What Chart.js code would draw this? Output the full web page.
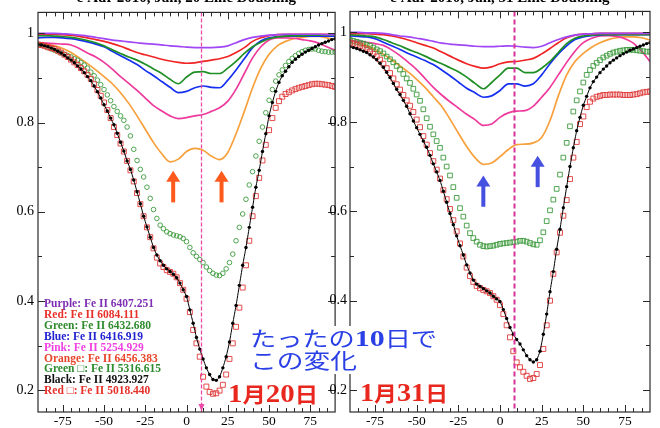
<!DOCTYPE html>
<html>
<head>
<meta charset="utf-8">
<script src="https://cdn.jsdelivr.net/npm/chart.js@4.4.1/dist/chart.umd.min.js"></script>
<style>
  html, body { margin: 0; padding: 0; background: #fff; }
  #wrap { position: relative; width: 660px; height: 428px; overflow: hidden; }
  #wrap canvas { position: absolute; top: 0; }
  #c20 { left: 0; }
  #c31 { left: 300px; }
  #notes { left: 0; }
</style>
</head>
<body>
<div id="wrap">
  <canvas id="c20" width="340" height="428"></canvas>
  <canvas id="c31" width="360" height="428"></canvas>
  <canvas id="notes" width="660" height="428"></canvas>
</div>
<script>
// velocity grids (km/s): lines sampled every 5, marker series every 2
const velLine = [-90,-85,-80,-75,-70,-65,-60,-55,-50,-45,-40,-35,-30,-25,-20,-15,-10,-5,
  0,5,10,15,20,25,30,35,40,45,50,55,60,65,70,75,80,85,90];
const velMark = [-90,-88,-86,-84,-82,-80,-78,-76,-74,-72,-70,-68,-66,-64,-62,-60,-58,-56,-54,-52,
  -50,-48,-46,-44,-42,-40,-38,-36,-34,-32,-30,-28,-26,-24,-22,-20,-18,-16,-14,-12,
  -10,-8,-6,-4,-2,0,2,4,6,8,10,12,14,16,18,20,22,24,26,28,
  30,32,34,36,38,40,42,44,46,48,50,52,54,56,58,60,62,64,66,68,
  70,72,74,76,78,80,82,84,86,88,90];

const xTickVals = [-75,-50,-25,0,25,50,75];
const yTickVals = [0.2,0.4,0.6,0.8,1];
const restVel = 8.5;

// ---- Jan 20 ----
const jan20Purple = [1.000,1.000,1.000,0.999,0.998,0.996,0.994,0.991,0.988,
  0.985,0.983,0.981,0.979,0.977,0.976,0.974,0.972,0.971,
  0.969,0.968,0.968,0.968,0.969,0.972,0.979,0.986,0.991,
  0.994,0.996,0.997,0.998,0.998,0.998,0.998,0.998,0.997, 0.997];
const jan20Red = [0.998,0.998,0.998,0.997,0.996,0.993,0.990,0.986,0.982,
  0.977,0.971,0.964,0.957,0.952,0.947,0.942,0.938,0.935,
  0.933,0.934,0.937,0.940,0.943,0.948,0.957,0.968,0.982,
  0.990,0.995,0.997,0.998,0.998,0.998,0.998,0.998,0.998, 0.998];
const jan20Green = [0.995,0.995,0.994,0.993,0.991,0.988,0.984,0.979,0.972,
  0.963,0.955,0.947,0.940,0.931,0.920,0.910,0.897,0.887,
  0.902,0.913,0.914,0.910,0.910,0.922,0.937,0.955,0.970,
  0.980,0.988,0.992,0.994,0.995,0.995,0.996,0.996,0.996, 0.996];
const jan20Blue = [0.990,0.991,0.991,0.990,0.988,0.985,0.981,0.976,0.970,
  0.960,0.950,0.940,0.930,0.917,0.905,0.892,0.879,0.867,
  0.870,0.878,0.882,0.879,0.878,0.895,0.918,0.943,0.968,
  0.983,0.990,0.993,0.994,0.994,0.994,0.994,0.994,0.994, 0.994];
const jan20Pink = [0.979,0.978,0.977,0.976,0.974,0.966,0.956,0.947,0.935,
  0.920,0.903,0.888,0.872,0.855,0.838,0.826,0.815,0.809,
  0.811,0.815,0.818,0.825,0.833,0.848,0.875,0.910,0.945,
  0.970,0.985,0.990,0.990,0.989,0.986,0.983,0.978,0.970, 0.962];
const jan20Orange = [0.978,0.976,0.972,0.966,0.957,0.945,0.932,0.918,0.903,
  0.887,0.867,0.843,0.815,0.785,0.755,0.730,0.712,0.718,
  0.735,0.742,0.738,0.725,0.717,0.733,0.775,0.825,0.878,
  0.922,0.953,0.972,0.982,0.988,0.991,0.993,0.993,0.990, 0.986];
const jan20GreenSq = [0.975,0.973,0.971,0.968,0.965,0.962,0.959,0.956,0.953,0.950,
  0.947,0.943,0.940,0.935,0.929,0.922,0.913,0.905,0.895,0.885,
  0.874,0.862,0.849,0.836,0.825,0.815,0.805,0.790,0.770,0.740,
  0.715,0.695,0.678,0.655,0.630,0.605,0.585,0.570,0.562,0.555,
  0.551,0.548,0.546,0.544,0.540,0.533,0.520,0.508,0.500,0.493,
  0.486,0.476,0.468,0.462,0.458,0.457,0.462,0.472,0.486,0.505,
  0.535,0.565,0.595,0.628,0.660,0.690,0.725,0.758,0.790,0.822,
  0.850,0.874,0.893,0.907,0.918,0.928,0.937,0.944,0.950,0.955,
  0.959,0.962,0.964,0.965,0.965,0.962,0.960,0.959,0.958,0.958,
  0.958];
const jan20Black = [0.975,0.974,0.972,0.970,0.967,0.964,0.960,0.956,0.951,0.945,
  0.940,0.934,0.927,0.920,0.912,0.903,0.894,0.882,0.869,0.855,
  0.840,0.826,0.810,0.795,0.776,0.756,0.736,0.714,0.695,0.671,
  0.645,0.618,0.590,0.566,0.543,0.520,0.503,0.490,0.480,0.472,
  0.466,0.460,0.452,0.440,0.425,0.410,0.380,0.350,0.318,0.292,
  0.270,0.250,0.235,0.224,0.222,0.230,0.250,0.275,0.308,0.350,
  0.390,0.435,0.480,0.520,0.565,0.610,0.655,0.693,0.735,0.775,
  0.815,0.845,0.870,0.890,0.905,0.915,0.925,0.935,0.942,0.948,
  0.953,0.958,0.962,0.966,0.970,0.974,0.977,0.980,0.983,0.986,
  0.988];
const jan20RedSq = [0.975,0.974,0.972,0.969,0.967,0.965,0.961,0.957,0.952,0.947,
  0.941,0.935,0.929,0.922,0.915,0.907,0.898,0.886,0.873,0.860,
  0.845,0.828,0.810,0.790,0.772,0.753,0.735,0.714,0.693,0.668,
  0.642,0.617,0.590,0.565,0.543,0.518,0.497,0.484,0.476,0.469,
  0.465,0.461,0.453,0.440,0.425,0.405,0.375,0.335,0.305,0.275,
  0.230,0.208,0.196,0.192,0.193,0.199,0.212,0.235,0.270,0.305,
  0.342,0.385,0.430,0.480,0.535,0.590,0.635,0.676,0.715,0.750,
  0.783,0.810,0.833,0.848,0.858,0.864,0.868,0.872,0.875,0.878,
  0.880,0.882,0.884,0.886,0.887,0.887,0.886,0.885,0.884,0.882,
  0.880];

// ---- Jan 31 ----
const jan31Purple = [1.000,1.000,0.999,0.999,0.998,0.995,0.992,0.990,0.987,
  0.984,0.980,0.976,0.974,0.972,0.971,0.969,0.968,0.968,
  0.969,0.970,0.969,0.967,0.966,0.969,0.977,0.984,0.990,
  0.994,0.996,0.997,0.998,0.998,0.998,0.998,0.998,0.998, 0.998];
const jan31Red = [0.998,0.998,0.997,0.996,0.995,0.992,0.988,0.983,0.977,
  0.971,0.965,0.956,0.947,0.938,0.930,0.924,0.920,0.923,
  0.930,0.934,0.935,0.938,0.942,0.952,0.964,0.977,0.988,
  0.994,0.996,0.997,0.998,0.998,0.998,0.998,0.998,0.998, 0.998];
const jan31Green = [0.995,0.994,0.992,0.990,0.984,0.977,0.970,0.962,0.955,
  0.947,0.938,0.930,0.921,0.912,0.900,0.886,0.874,0.888,
  0.905,0.920,0.920,0.910,0.910,0.920,0.935,0.955,0.975,
  0.987,0.992,0.994,0.995,0.995,0.995,0.995,0.995,0.995, 0.995];
const jan31Blue = [0.992,0.991,0.990,0.986,0.978,0.970,0.962,0.953,0.945,
  0.937,0.928,0.916,0.903,0.889,0.875,0.865,0.855,0.858,
  0.870,0.885,0.885,0.880,0.885,0.905,0.930,0.952,0.970,
  0.984,0.990,0.993,0.994,0.995,0.995,0.995,0.995,0.995, 0.995];
const jan31Pink = [0.982,0.980,0.978,0.975,0.971,0.961,0.948,0.933,0.917,
  0.897,0.877,0.860,0.845,0.831,0.817,0.805,0.792,0.795,
  0.810,0.820,0.824,0.825,0.835,0.855,0.877,0.905,0.933,
  0.958,0.977,0.987,0.992,0.993,0.991,0.986,0.976,0.958, 0.935];
const jan31Orange = [0.983,0.978,0.971,0.962,0.951,0.939,0.925,0.911,0.895,
  0.877,0.856,0.835,0.806,0.775,0.745,0.720,0.705,0.708,
  0.722,0.738,0.749,0.750,0.753,0.765,0.803,0.858,0.905,
  0.935,0.953,0.967,0.977,0.984,0.988,0.990,0.990,0.988, 0.983];
const jan31GreenSq = [0.983,0.981,0.979,0.977,0.975,0.972,0.970,0.966,0.962,0.958,
  0.953,0.946,0.940,0.933,0.925,0.917,0.907,0.897,0.887,0.874,
  0.861,0.847,0.828,0.808,0.789,0.772,0.757,0.742,0.720,0.700,
  0.680,0.654,0.630,0.607,0.588,0.568,0.551,0.540,0.532,0.525,
  0.522,0.521,0.522,0.523,0.525,0.527,0.528,0.529,0.530,0.531,
  0.532,0.534,0.534,0.532,0.529,0.526,0.525,0.535,0.553,0.578,
  0.602,0.626,0.650,0.682,0.720,0.753,0.790,0.823,0.848,0.868,
  0.888,0.905,0.916,0.925,0.932,0.938,0.944,0.948,0.952,0.955,
  0.957,0.959,0.960,0.961,0.961,0.961,0.960,0.959,0.958,0.957,
  0.957];
const jan31Black = [0.968,0.966,0.964,0.961,0.958,0.955,0.950,0.945,0.939,0.931,
  0.922,0.911,0.899,0.886,0.873,0.861,0.848,0.835,0.818,0.802,
  0.787,0.772,0.757,0.743,0.725,0.706,0.688,0.669,0.645,0.620,
  0.595,0.570,0.545,0.523,0.502,0.480,0.462,0.446,0.437,0.432,
  0.427,0.422,0.417,0.410,0.404,0.398,0.380,0.360,0.340,0.325,
  0.313,0.303,0.290,0.277,0.268,0.263,0.268,0.287,0.325,0.370,
  0.420,0.465,0.515,0.560,0.608,0.655,0.700,0.742,0.780,0.810,
  0.837,0.857,0.876,0.890,0.900,0.910,0.918,0.925,0.932,0.938,
  0.943,0.948,0.952,0.956,0.960,0.963,0.966,0.969,0.972,0.975,
  0.977];
const jan31RedSq = [0.977,0.975,0.972,0.969,0.965,0.962,0.957,0.952,0.946,0.939,
  0.930,0.920,0.909,0.897,0.884,0.872,0.860,0.848,0.836,0.822,
  0.805,0.788,0.768,0.749,0.730,0.712,0.693,0.673,0.647,0.627,
  0.605,0.580,0.555,0.528,0.499,0.474,0.455,0.442,0.433,0.428,
  0.424,0.421,0.417,0.410,0.402,0.390,0.370,0.345,0.318,0.287,
  0.262,0.251,0.241,0.232,0.225,0.227,0.236,0.256,0.292,0.345,
  0.400,0.460,0.508,0.552,0.590,0.625,0.672,0.720,0.755,0.795,
  0.812,0.833,0.845,0.852,0.856,0.858,0.860,0.860,0.861,0.861,
  0.861,0.861,0.860,0.860,0.860,0.861,0.862,0.864,0.866,0.867,
  0.868];

const legendText = ['Purple: Fe II 6407.251','Red: Fe II 6084.111','Green: Fe II 6432.680',
  'Blue: Fe II 6416.919','Pink: Fe II 5254.929','Orange: Fe II 6456.383',
  'Green \u25a1: Fe II 5316.615','Black: Fe II 4923.927','Red \u25a1: Fe II 5018.440'];
const legendColors = ['#7e2fb4','#e8302a','#2e8b2e','#2222d0','#f040e0','#e8452a','#2e8b2e','#111111','#e8302a'];

const C = { purple:'#a046f5', red:'#f02424', green:'#1f8f26', blue:'#1530f0', pink:'#ee3a9c',
  orange:'#f7a03c', greenMk:'#3c9a3c', redMk:'#e03a3a', black:'#000' };

const SERIF = '"Liberation Serif", "Times New Roman", serif';
const CJK = '"Noto Sans CJK JP", sans-serif';

// per-panel decorations: rest-velocity line, feature arrows, title
const panelDeco = {
  c20: { title:'\u03b5 Aur 2010, Jan, 20 Line Doubling', dashColor:'#ec4aa6', dashWidth:1.3, dash:[4,2], foot:true,
         arrowColor:'#ff5a1e', arrows:[[-8.1,0.692,0.621],[21.2,0.692,0.621]] },
  c31: { title:'\u03b5 Aur 2010, Jan, 31 Line Doubling', dashColor:'#d8339a', dashWidth:2, dash:[5,3], foot:false,
         arrowColor:'#4650e0', arrows:[[-10,0.68,0.61],[22.6,0.724,0.654]] }
};

const framePlugin = {
  id: 'frame',
  afterDatasetsDraw(chart) {
    const p = panelDeco[chart.canvas.id];
    const ctx = chart.ctx, a = chart.chartArea;
    const xs = chart.scales.x, ys = chart.scales.y;
    ctx.save();
    // rest velocity
    const rx = Math.round(xs.getPixelForValue(restVel)) + 0.5;
    ctx.strokeStyle = p.dashColor; ctx.lineWidth = p.dashWidth; ctx.setLineDash(p.dash);
    ctx.beginPath(); ctx.moveTo(rx, a.top); ctx.lineTo(rx, a.bottom); ctx.stroke();
    ctx.setLineDash([]);
    if (p.foot) {
      ctx.fillStyle = p.dashColor;
      ctx.beginPath(); ctx.moveTo(rx - 3, a.bottom - 8); ctx.lineTo(rx + 3, a.bottom - 8); ctx.lineTo(rx, a.bottom - 1); ctx.closePath(); ctx.fill();
    }
    // arrows
    ctx.fillStyle = p.arrowColor;
    p.arrows.forEach(ar => {
      const x = xs.getPixelForValue(ar[0]);
      const yt = ys.getPixelForValue(ar[1]), yb = ys.getPixelForValue(ar[2]);
      ctx.fillRect(x - 2, yt + 9, 4, yb - yt - 9);
      ctx.beginPath(); ctx.moveTo(x, yt); ctx.lineTo(x - 7, yt + 11); ctx.lineTo(x + 7, yt + 11); ctx.closePath(); ctx.fill();
    });
    // frame with inward ticks
    ctx.strokeStyle = '#2a2a2a'; ctx.lineWidth = 1.2;
    ctx.strokeRect(a.left, a.top, a.right - a.left, a.bottom - a.top);
    ctx.lineWidth = 1;
    ctx.beginPath();
    for (let v = -85; v <= 85; v += 5) {
      const x = Math.round(xs.getPixelForValue(v)) + 0.5;
      const len = v % 25 === 0 ? 7 : 4;
      ctx.moveTo(x, a.bottom); ctx.lineTo(x, a.bottom - len);
      ctx.moveTo(x, a.top); ctx.lineTo(x, a.top + len);
    }
    for (let k = 2; k <= 10; k++) {
      const y = Math.round(ys.getPixelForValue(k / 10)) + 0.5;
      const len = k % 2 === 0 ? 7 : 4;
      ctx.moveTo(a.left, y); ctx.lineTo(a.left + len, y);
      ctx.moveTo(a.right, y); ctx.lineTo(a.right - len, y);
    }
    ctx.stroke();
    // title, mostly above the canvas edge
    ctx.fillStyle = '#000'; ctx.font = 'bold 15px ' + SERIF;
    ctx.textAlign = 'center'; ctx.textBaseline = 'alphabetic';
    ctx.fillText(p.title, (a.left + a.right) / 2, 2);
    ctx.restore();
  }
};

function pts(vel, vals) { return vel.map((v, i) => ({ x: v, y: vals[i] })); }
function lineDs(vals, color) {
  return { data: pts(velLine, vals), borderColor: color, borderWidth: 1.7, pointRadius: 0,
    cubicInterpolationMode: 'monotone', order: 5 };
}
function markDs(vals, color, style, r, order) {
  return { data: pts(velMark, vals), showLine: false, pointStyle: style, pointRadius: r,
    pointBorderColor: color, pointBackgroundColor: 'rgba(255,255,255,0)', pointBorderWidth: 0.9,
    borderColor: color, order: order };
}
function blackDs(vals) {
  return { data: pts(velMark, vals), borderColor: '#000', borderWidth: 1, pointRadius: 1.7,
    pointBackgroundColor: '#000', pointBorderWidth: 0, tension: 0.2, order: 0 };
}

function panel(id, sets, axisW, labelPad, padRight) {
  return new Chart(document.getElementById(id), {
    type: 'line',
    data: { datasets: sets },
    options: {
      responsive: false, animation: false,
      layout: { padding: { top: 8, right: padRight, left: 0, bottom: 0 } },
      plugins: { legend: { display: false }, tooltip: { enabled: false } },
      scales: {
        x: {
          type: 'linear', min: -90, max: 90,
          afterBuildTicks: s => { s.ticks = xTickVals.map(v => ({ value: v })); },
          afterFit: s => { s.height = 16; },
          grid: { display: false, drawTicks: false }, border: { display: false },
          ticks: { font: { family: SERIF, size: 13.5 }, color: '#000', padding: 1, maxRotation: 0, autoSkip: false,
            callback: v => String(v) }
        },
        y: {
          type: 'linear', min: 0.151, max: 1.047,
          afterBuildTicks: s => { s.ticks = yTickVals.map(v => ({ value: v })); },
          afterFit: s => { s.width = axisW; },
          grid: { display: false, drawTicks: false }, border: { display: false },
          ticks: { font: { family: SERIF, size: 14 }, color: '#000', padding: labelPad,
            callback: v => (v === 1 ? '1' : v.toFixed(1)) }
        }
      }
    },
    plugins: [framePlugin]
  });
}

panel('c20', [
  blackDs(jan20Black),
  markDs(jan20RedSq, C.redMk, 'rect', 3.5, 1),
  markDs(jan20GreenSq, C.greenMk, 'circle', 2.3, 2),
  lineDs(jan20Purple, C.purple), lineDs(jan20Red, C.red), lineDs(jan20Green, C.green),
  lineDs(jan20Blue, C.blue), lineDs(jan20Pink, C.pink), lineDs(jan20Orange, C.orange)
], 38, 4, 3);

panel('c31', [
  blackDs(jan31Black),
  markDs(jan31RedSq, C.redMk, 'rect', 3.5, 1),
  markDs(jan31GreenSq, C.greenMk, 'rect', 3.3, 2),
  lineDs(jan31Purple, C.purple), lineDs(jan31Red, C.red), lineDs(jan31Green, C.green),
  lineDs(jan31Blue, C.blue), lineDs(jan31Pink, C.pink), lineDs(jan31Orange, C.orange)
], 50, 3, 10);

// text notes drawn over both panels
const nctx = document.getElementById('notes').getContext('2d');

function drawRuns(x, base, width, color, parts) {
  let w0 = 0;
  parts.forEach(p => { nctx.font = p[1]; w0 += nctx.measureText(p[0]).width; });
  nctx.save();
  nctx.translate(x, base);
  nctx.scale(width / w0, 1);
  nctx.fillStyle = color; nctx.textAlign = 'left'; nctx.textBaseline = 'alphabetic';
  let cx = 0;
  parts.forEach(p => { nctx.font = p[1]; nctx.fillText(p[0], cx, 0); cx += nctx.measureText(p[0]).width; });
  nctx.restore();
}

nctx.font = 'bold 11.5px ' + SERIF;
nctx.textBaseline = 'alphabetic';
legendText.forEach((t, i) => {
  nctx.fillStyle = legendColors[i];
  nctx.fillText(t, 44, 307.3 + i * 10.85);
});

// the caption sits on a white patch that hides the frames between the panels
nctx.fillStyle = '#fff';
nctx.fillRect(248, 326, 192, 48);
const jp = '21px ' + CJK, jpB = 'bold 21px ' + CJK;
drawRuns(250, 346, 187, '#2a40e6', [['たったの', jp], ['10', 'bold 24px ' + SERIF], ['日で', jp]]);
drawRuns(250, 368, 107, '#2a40e6', [['この変化', jp]]);
drawRuns(228, 402, 90, '#e8281e', [['1', 'bold 26px ' + SERIF], ['月', jpB], ['20', 'bold 26px ' + SERIF], ['日', jpB]]);
drawRuns(360, 401, 88, '#e8281e', [['1', 'bold 26px ' + SERIF], ['月', jpB], ['31', 'bold 26px ' + SERIF], ['日', jpB]]);
</script>
</body>
</html>
